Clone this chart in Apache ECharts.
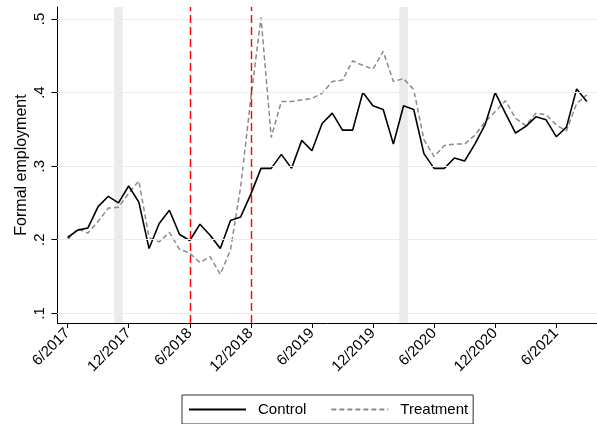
<!DOCTYPE html>
<html>
<head>
<meta charset="utf-8">
<title>Formal employment</title>
<script src="https://cdn.jsdelivr.net/npm/echarts@6/dist/echarts.min.js"></script>
<style>
  html, body { margin: 0; padding: 0; background: #fff; }
  #chart { width: 597px; height: 424px; }
</style>
</head>
<body>
<div id="chart"></div>
<script>
// Monthly series, June 2017 through September 2021 (index 0 = 6/2017)
const firstYear = 2017;
const firstMonth = 6;

const control = [
  0.203, 0.213, 0.216, 0.245, 0.259, 0.250, 0.273, 0.251, 0.188, 0.222,
  0.240, 0.207, 0.199, 0.221, 0.206, 0.188, 0.226, 0.231, 0.262, 0.297,
  0.297, 0.316, 0.297, 0.335, 0.321, 0.358, 0.372, 0.349, 0.349, 0.400,
  0.382, 0.377, 0.330, 0.382, 0.377, 0.317, 0.297, 0.297, 0.311, 0.307,
  0.330, 0.356, 0.400, 0.372, 0.345, 0.354, 0.367, 0.363, 0.340, 0.353,
  0.405, 0.388
];

const treatment = [
  0.200, 0.215, 0.209, 0.225, 0.243, 0.244, 0.263, 0.280, 0.203, 0.197,
  0.210, 0.187, 0.182, 0.169, 0.177, 0.153, 0.186, 0.272, 0.392, 0.502,
  0.339, 0.388, 0.388, 0.390, 0.392, 0.399, 0.415, 0.417, 0.443, 0.437,
  0.432, 0.456, 0.415, 0.419, 0.404, 0.336, 0.313, 0.328, 0.330, 0.330,
  0.342, 0.360, 0.374, 0.389, 0.365, 0.355, 0.372, 0.370, 0.356, 0.348,
  0.385, 0.397
];

// Tick positions (month index) and their labels
const xTicks = [0, 6, 12, 18, 24, 30, 36, 42, 48];
const xTickLabels = ['6/2017', '12/2017', '6/2018', '12/2018', '6/2019',
                     '12/2019', '6/2020', '12/2020', '6/2021'];
const yTicks = [0.1, 0.2, 0.3, 0.4, 0.5];
const yTickLabels = ['.1', '.2', '.3', '.4', '.5'];

// Event months marked with red dashed lines (6/2018, 12/2018)
const eventMonths = [12, 18];
// Shaded months (11/2017, 3/2020)
const shadedMonths = [5, 33];

const FONT = '"Liberation Sans", Arial, sans-serif';

const toPairs = arr => arr.map((v, i) => [i, v]);

const chart = echarts.init(document.getElementById('chart'), null, { renderer: 'canvas' });

chart.setOption({
  animation: false,
  backgroundColor: '#ffffff',
  grid: { left: 57.4, top: 7, width: 547.7, height: 316, containLabel: false },
  xAxis: {
    type: 'value',
    min: -1,
    max: 52,
    axisLine: { show: true, onZero: false, lineStyle: { color: '#000', width: 1 } },
    axisTick: { show: true, length: 5, customValues: xTicks, lineStyle: { color: '#000', width: 1 } },
    axisLabel: {
      customValues: xTicks,
      rotate: 45,
      margin: 8,
      fontFamily: FONT,
      fontSize: 15,
      color: '#000',
      formatter: v => xTickLabels[xTicks.indexOf(Math.round(v))] || ''
    },
    splitLine: { show: false }
  },
  yAxis: {
    type: 'value',
    min: 0.0868,
    max: 0.5163,
    name: 'Formal employment',
    nameLocation: 'middle',
    nameRotate: 90,
    nameGap: 28,
    nameMoveOverlap: false,
    nameTextStyle: { fontFamily: FONT, fontSize: 16, color: '#000' },
    axisLine: { show: true, onZero: false, lineStyle: { color: '#000', width: 1 } },
    axisTick: { show: true, length: 6, customValues: yTicks, lineStyle: { color: '#000', width: 1 } },
    axisLabel: {
      customValues: yTicks,
      rotate: 90,
      margin: 10,
      fontFamily: FONT,
      fontSize: 15,
      color: '#000',
      formatter: v => {
        const k = yTicks.findIndex(t => Math.abs(t - v) < 1e-6);
        return k >= 0 ? yTickLabels[k] : '';
      }
    },
    splitLine: { show: false }
  },
  legend: {
    data: ['Control', 'Treatment'],
    left: 182,
    top: 395,
    orient: 'horizontal',
    padding: [7, 5, 7, 6],
    itemWidth: 57,
    itemHeight: 14,
    itemGap: 24,
    backgroundColor: '#fff',
    borderColor: '#333',
    borderWidth: 1,
    borderRadius: 0,
    itemStyle: { opacity: 0 },
    textStyle: { fontFamily: FONT, fontSize: 15, color: '#000', padding: [0, 0, 0, 7] }
  },
  series: [
    {
      // horizontal gridlines and shaded months, kept beneath the data
      name: 'grid',
      type: 'line',
      data: [],
      silent: true,
      z: 1,
      markLine: {
        silent: true,
        symbol: 'none',
        label: { show: false },
        lineStyle: { color: '#e6eef0', width: 1.2, type: 'solid' },
        data: yTicks.map(t => ({ yAxis: t }))
      },
      markArea: {
        silent: true,
        itemStyle: { color: '#ebebeb' },
        data: shadedMonths.map(m => [{ xAxis: m - 0.42 }, { xAxis: m + 0.42 }])
      }
    },
    {
      name: 'Control',
      type: 'line',
      data: toPairs(control),
      symbol: 'none',
      z: 4,
      lineStyle: { color: '#000', width: 1.6, type: 'solid' },
      itemStyle: { color: '#000' }
    },
    {
      name: 'Treatment',
      type: 'line',
      data: toPairs(treatment),
      symbol: 'none',
      z: 3,
      lineStyle: { color: '#8a8a8a', width: 1.5, type: [5, 3] },
      itemStyle: { color: '#8a8a8a' }
    },
    {
      name: 'events',
      type: 'line',
      data: [],
      silent: true,
      z: 5,
      markLine: {
        silent: true,
        symbol: 'none',
        label: { show: false },
        lineStyle: { color: '#ff0000', width: 1.4, type: [8, 4] },
        data: eventMonths.map(m => ({ xAxis: m }))
      }
    }
  ]
});
</script>
</body>
</html>
